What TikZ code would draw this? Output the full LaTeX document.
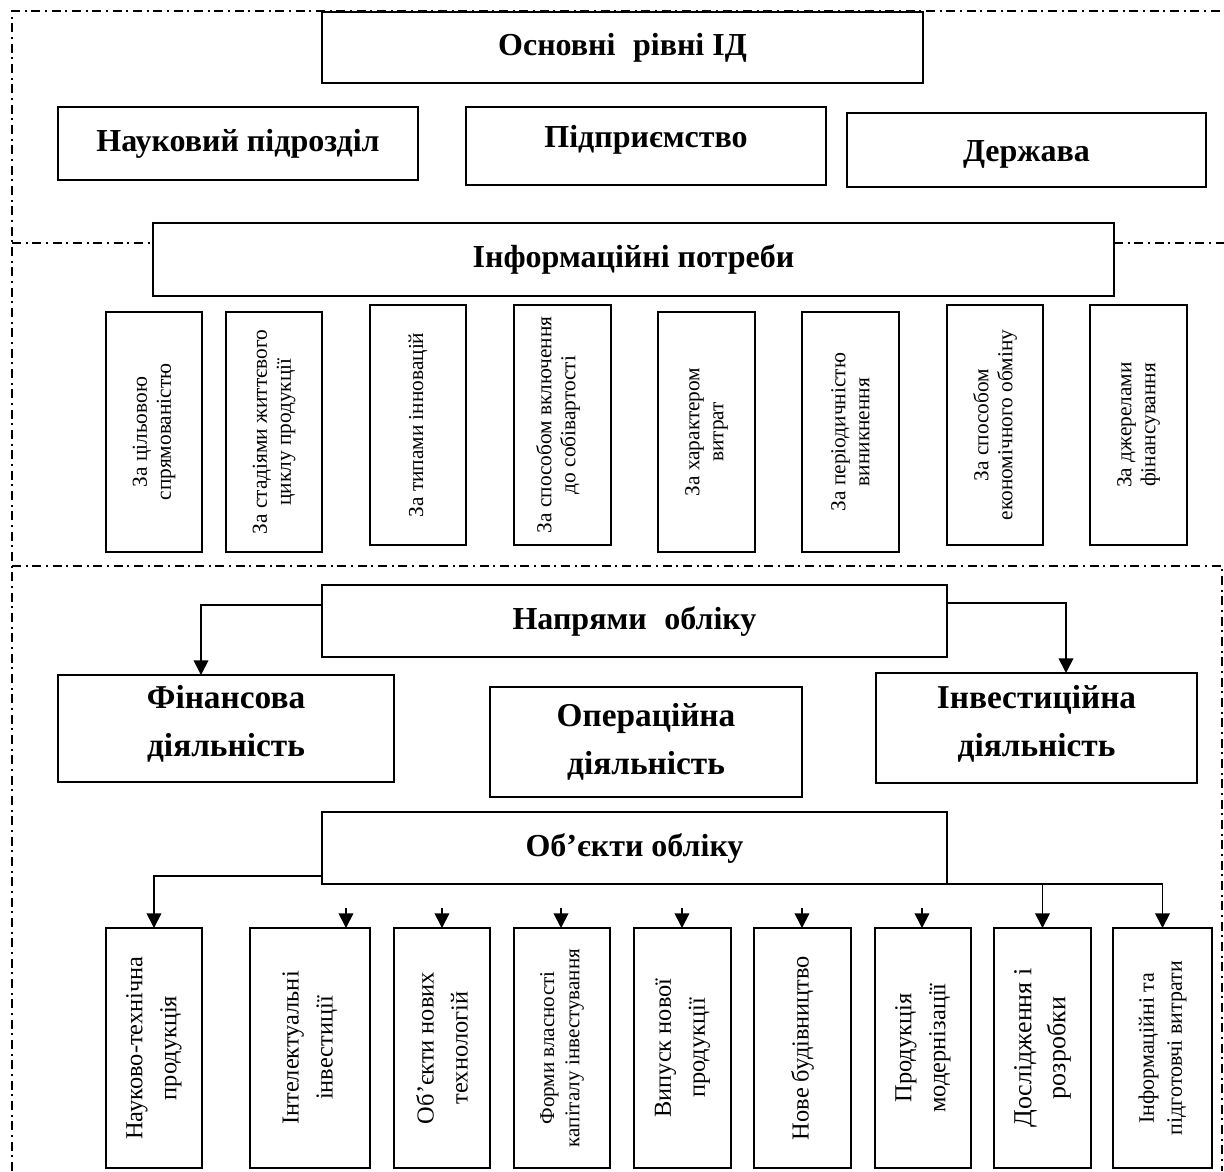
\documentclass[tikz,border=0pt]{standalone}
\usepackage{fontspec}
\setmainfont{Liberation Serif}
\usetikzlibrary{arrows.meta}
\begin{document}
\begin{tikzpicture}[x=0.75pt,y=-0.75pt,
  box/.style 2 args={draw, line width=1.5pt, inner sep=0pt, outer sep=0pt,
    minimum width=#1*0.75pt, minimum height=#2*0.75pt, align=center},
  bigtxt/.style={font=\fontsize{24}{28}\selectfont\bfseries},
  midtxt/.style={font=\fontsize{25}{36}\selectfont\bfseries, align=center},
  rottxt/.style={rotate=90, align=center, inner sep=0pt, font=\fontsize{16}{18}\selectfont},
  lowtxt/.style={rotate=90, align=center, inner sep=0pt, font=\fontsize{18.3}{25.5}\selectfont},
  smalltxt/.style={rotate=90, align=center, inner sep=0pt, font=\fontsize{15.8}{19}\selectfont},
  ddot/.style={line width=1.3pt, dash pattern=on 6.75pt off 3.5pt on 1.5pt off 3.5pt},
  conn/.style={line width=1.3pt},
  arr/.style={line width=1.3pt, -{Triangle[width=11pt,length=11pt]}}]
\useasboundingbox (0,0) rectangle (1224,1171);

% ---------- frame lines ----------
\coordinate (tl) at (12,11);
\coordinate (tr) at (1224,11);
\coordinate (bl) at (12,1171);
\coordinate (m1l) at (12,243);
\coordinate (m1r) at (1224,243);
\coordinate (m2l) at (12,566);
\coordinate (m2r) at (1222,566);
\coordinate (br) at (1222,1171);

% ---------- top section ----------
\node[box={601}{71}] (osn) at (622.5,47.5) {};
\node[bigtxt] (osnt) at (osn) {Основні\hspace{0.55em}рівні ІД};
\node[box={360}{73}] (nauk) at (238,143.5) {};
\node[bigtxt] (naukt) at (nauk) {Науковий підрозділ};
\node[box={360}{78}] (pidpr) at (646,146) {};
\node[bigtxt] (pidprt) at (646,140) {Підприємство};
\node[box={359}{74}] (derzh) at (1026.5,150) {};
\node[bigtxt] (derzht) at (1026.5,154) {Держава};

\node[box={961}{73}] (info) at (633.5,259.5) {};
\node[bigtxt] (infot) at (info) {Інформаційні потреби};

% rotated criteria boxes
\node[box={96}{240}] (r1) at (154,432) {};
\node[rottxt] (r1t) at (r1) {За цільовою\\спрямованістю};
\node[box={96}{240}] (r2) at (274,432) {};
\node[rottxt] (r2t) at (r2) {За стадіями життєвого\\циклу продукції};
\node[box={96}{240}] (r3) at (418,425) {};
\node[rottxt] (r3t) at (r3) {За типами інновацій};
\node[box={97}{240}] (r4) at (562.5,425) {};
\node[rottxt] (r4t) at (558,425) {За способом включення\\до собівартості};
\node[box={97}{240}] (r5) at (706.5,432) {};
\node[rottxt] (r5t) at (r5) {За характером\\витрат};
\node[box={97}{240}] (r6) at (850.5,432) {};
\node[rottxt] (r6t) at (r6) {За періодичністю\\виникнення};
\node[box={96}{240}] (r7) at (995,425) {};
\node[rottxt] (r7t) at (r7) {За способом\\економічного обміну};
\node[box={97}{240}] (r8) at (1138.5,425) {};
\node[rottxt] (r8t) at (r8) {За джерелами\\фінансування};

% ---------- lower section ----------
\node[box={625}{72}] (napr) at (634.5,621) {};
\node[bigtxt] (naprt) at (napr) {Напрями\hspace{0.55em}обліку};
\node[box={336}{107}] (fin) at (226,728.5) {};
\node[midtxt] (fint) at (226,724) {Фінансова\\діяльність};
\node[box={312}{110}] (oper) at (646,742) {};
\node[midtxt] (opert) at (oper) {Операційна\\діяльність};
\node[box={321}{110}] (inv) at (1036.5,728) {};
\node[midtxt] (invt) at (1036.5,724) {Інвестиційна\\діяльність};

\node[box={625}{72}] (obj) at (634.5,848) {};
\node[bigtxt] (objt) at (obj) {Об’єкти обліку};

\node[box={96}{240}] (A) at (154,1048) {};
\node[lowtxt] (At) at (A) {Науково-технічна\\продукція};
\node[box={120}{240}] (B) at (310,1048) {};
\node[lowtxt] (Bt) at (B) {Інтелектуальні\\інвестиції};
\node[box={96}{240}] (C) at (442,1048) {};
\node[lowtxt] (Ct) at (C) {Об’єкти нових\\технологій};
\node[box={96}{240}] (D) at (562,1048) {};
\node[smalltxt] (Dt) at (D) {Форми власності\\капіталу інвестування};
\node[box={97}{240}] (E) at (682.5,1048) {};
\node[lowtxt] (Et) at (E) {Випуск нової\\продукції};
\node[box={97}{240}] (F) at (802.5,1048) {};
\node[lowtxt] (Ft) at (F) {Нове будівництво};
\node[box={96}{240}] (G) at (923,1048) {};
\node[lowtxt] (Gt) at (G) {Продукція\\модернізації};
\node[box={97}{240}] (H) at (1042.5,1048) {};
\node[lowtxt, font=\fontsize{19.5}{25.5}\selectfont] (Ht) at (H) {Дослідження і\\розробки};
\node[box={99}{240}] (I) at (1162.5,1048) {};
\node[smalltxt, font=\fontsize{16.5}{21}\selectfont] (It) at (I) {Інформаційні та\\підготовчі витрати};

% ---------- dash-dot frame ----------
\draw[ddot] (bl) -- (tl) -- (tr);
\draw[ddot] (m1l) -- (info.west |- m1l);
\draw[ddot] (info.east |- m1r) -- (m1r);
\draw[ddot] (m2l) -- (m2r) -- (br);

% ---------- connectors ----------
\coordinate (fa) at (201,605);
\coordinate (ia) at (1066,603);
\draw[arr] (napr.west |- fa) -| (fin.north -| fa);
\draw[arr] (napr.east |- ia) -| (inv.north -| ia);

\coordinate (oa) at (154,876);
\draw[arr] (obj.west |- oa) -| (A.north);
\draw[conn] (obj.south east) -- (obj.south east -| I.north);
\draw[arr] (obj.south east -| H.north) -- (H.north);
\draw[arr] (obj.south east -| I.north) -- (I.north);

\coordinate (sB) at (346,908);
\coordinate (sC) at (442,908);
\coordinate (sD) at (561,908);
\coordinate (sE) at (682,908);
\coordinate (sF) at (802,908);
\coordinate (sG) at (922,908);
\foreach \s in {sB,sC,sD,sE,sF,sG}
  \draw[arr] (\s) -- (\s |- A.north);
\end{tikzpicture}
\end{document}
